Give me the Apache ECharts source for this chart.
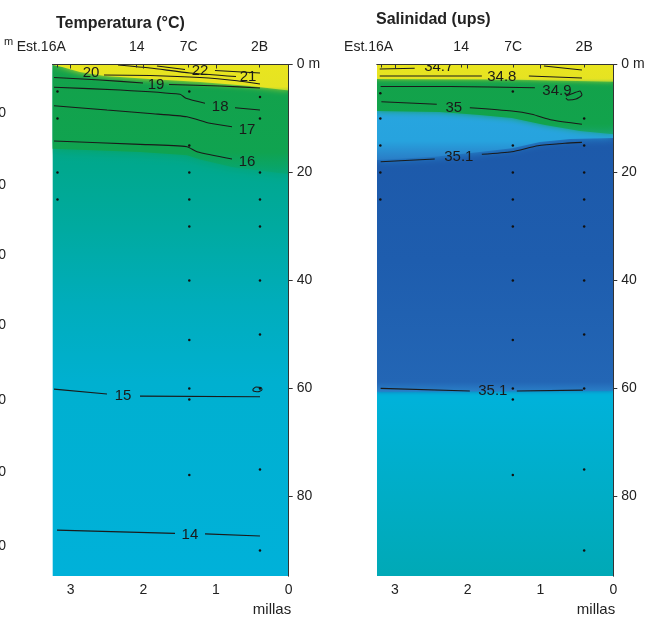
<!DOCTYPE html>
<html>
<head>
<meta charset="utf-8">
<script src="https://cdn.jsdelivr.net/npm/echarts@6/dist/echarts.min.js"></script>
<style>
	html, body { margin: 0; padding: 0; background: #fff; }
	#chart { width: 657px; height: 621px; }
</style>
</head>
<body>
<div id="chart"></div>
<script>
// ---- data (x = millas, y = depth in m) ----
var stationNames = ['Est.16A', '14', '7C', '2B'];
var stationMiles = [3.19, 2.09, 1.375, 0.40];
var mileTicks = [0, 1, 2, 3];
var depthTicks = [0, 20, 40, 60, 80];
var maxMiles = 3.246;
var maxDepth = 94.7;

// temperatura: contour polylines
var tempLines = [
	[[1.812, 0.28], [1.426, 0.93]],
	[[1.014, 1.11], [0.395, 1.57]],
	[[2.348, 0.09], [1.908, 0.65], [1.358, 1.57], [0.725, 2.22]],
	[[2.541, 1.94], [1.908, 2.04], [1.220, 2.41], [0.711, 3.0], [0.395, 3.61]],
	[[3.228, 2.41], [2.596, 2.87], [2.004, 3.43]],
	[[1.646, 3.70], [0.945, 3.98], [0.395, 4.35]],
	[[3.228, 4.22], [2.320, 4.72], [1.495, 5.52], [1.413, 6.26], [1.151, 7.19]],
	[[0.739, 8.0], [0.395, 8.43]],
	[[3.228, 7.63], [2.499, 8.43], [1.908, 9.07], [1.399, 9.67], [1.083, 10.89], [0.780, 11.52]],
	[[3.228, 14.17], [2.045, 14.78], [1.399, 15.22], [1.261, 16.15], [0.780, 17.5]],
	[[3.228, 60.1], [2.499, 61.0]],
	[[2.045, 61.4], [0.395, 61.5]],
	[[0.491, 60.1], [0.450, 59.7], [0.381, 59.8], [0.367, 60.2], [0.422, 60.6], [0.491, 60.4], [0.491, 60.1]],
	[[3.187, 86.2], [1.564, 86.8]],
	[[1.151, 86.9], [0.395, 87.3]]
];
var tempLabels = [
	['20', 2.719, 1.48], ['22', 1.220, 1.20], ['21', 0.560, 2.31], ['19', 1.825, 3.80],
	['18', 0.942, 7.81], ['17', 0.574, 12.13], ['16', 0.574, 18.0], ['15', 2.279, 61.3],
	['14', 1.358, 87.0]
];
var tempSamples = [
	[3.18, 5], [3.18, 10], [3.18, 20], [3.18, 25],
	[1.367, 5], [1.367, 15], [1.367, 20], [1.367, 25], [1.367, 30], [1.367, 40], [1.367, 51], [1.367, 60], [1.367, 62], [1.367, 76],
	[0.395, 6], [0.395, 10], [0.395, 20], [0.395, 25], [0.395, 30], [0.395, 40], [0.395, 50], [0.395, 60], [0.395, 75], [0.395, 90]
];
// colour band edges (fill from surface down to these)
var tempYellowEdge = [[3.246, 0.1], [3.116, 0.46], [2.871, 1.39], [2.527, 2.13], [1.908, 2.69], [1.220, 3.24], [0.532, 3.98], [0, 4.8]];
var tempGreenEdge = [[3.246, 15.6], [2.045, 16.2], [1.399, 16.8], [1.220, 17.6], [0.780, 19.0], [0, 20.3]];

// salinidad
var salLines = [
	[[3.209, 0.83], [2.728, 0.70]],
	[[0.953, 0.28], [0.431, 1.02]],
	[[3.209, 2.13], [1.806, 2.13]],
	[[1.160, 2.13], [0.431, 2.5]],
	[[3.196, 4.07], [2.246, 4.07], [1.077, 4.30]],
	[[0.651, 5.83], [0.541, 5.28], [0.458, 4.91], [0.431, 5.65], [0.513, 6.39], [0.623, 6.57], [0.651, 6.20]],
	[[3.186, 6.89], [2.425, 7.37]],
	[[1.971, 8.0], [1.393, 8.61], [1.118, 9.22], [0.843, 10.28], [0.431, 11.07]],
	[[3.196, 18.0], [2.453, 17.5]],
	[[1.806, 16.63], [1.393, 16.15], [1.036, 15.04], [0.664, 14.59], [0.431, 14.41]],
	[[3.196, 59.96], [1.971, 60.46]],
	[[1.325, 60.46], [0.417, 60.28]]
];
var salLabels = [
	['34.7', 2.398, 0.45], ['34.8', 1.531, 2.22], ['34.9', 0.774, 4.9], ['35', 2.191, 7.96],
	['35.1', 2.122, 17.07], ['35.1', 1.655, 60.46]
];
var salSamples = [
	[3.2, 5.3], [3.2, 10], [3.2, 15], [3.2, 20], [3.2, 25],
	[1.38, 5], [1.38, 15], [1.38, 20], [1.38, 25], [1.38, 30], [1.38, 40], [1.38, 51], [1.38, 60], [1.38, 62], [1.38, 76],
	[0.4, 10], [0.4, 15], [0.4, 20], [0.4, 25], [0.4, 30], [0.4, 40], [0.4, 50], [0.4, 60], [0.4, 75], [0.4, 90]
];
var salYellowEdge = [[3.246, 2.7], [1.5, 2.8], [0, 3.2]];
var salGreenEdge = [[3.246, 8.6], [2.384, 8.8], [1.834, 9.35], [1.393, 9.91], [0.939, 11.2], [0.458, 12.3], [0, 12.9]];
var salLightEdge = [[3.246, 17.7], [2.453, 17.1], [1.834, 16.2], [1.393, 15.5], [1.008, 14.35], [0.596, 13.8], [0, 13.6]];
var salDarkEdge = [[3.246, 60.6], [0, 60.4]];

var FONT = '"Liberation Sans", Arial, sans-serif';
var INK = '#222';

function grad(stops) {
	return new echarts.graphic.LinearGradient(0, 0, 0, 1, stops.map(function (s) {
		return { offset: s[0], color: s[1] };
	}));
}

function fill(g, data, color, blur, shadow) {
	return {
		type: 'line', xAxisIndex: g * 2, yAxisIndex: g * 2, data: data, z: 1,
		symbol: 'none', silent: true, clip: true,
		lineStyle: { width: 0, opacity: 0 },
		areaStyle: { origin: 'start', opacity: 1, color: color, shadowBlur: blur || 0, shadowColor: shadow || 'transparent' }
	};
}

function contours(g, lines) {
	return lines.map(function (l) {
		return {
			type: 'line', xAxisIndex: g * 2, yAxisIndex: g * 2, data: l, z: 3,
			symbol: 'none', silent: true, smooth: 0.2,
			lineStyle: { color: '#1a1a1a', width: 1.1 }
		};
	});
}

function labels(g, list) {
	return {
		type: 'custom', xAxisIndex: g * 2, yAxisIndex: g * 2, clip: true, silent: true, z: 4,
		data: list.map(function (l) { return [l[1], l[2]]; }),
		renderItem: function (params, api) {
			var p = api.coord([api.value(0), api.value(1)]);
			return {
				type: 'text', x: p[0], y: p[1], z2: 10,
				style: { text: list[params.dataIndex][0], fill: '#1a1a1a', font: '15px ' + FONT, align: 'center', verticalAlign: 'middle', opacity: 1 }
			};
		}
	};
}

function dots(g, data) {
	return {
		type: 'scatter', xAxisIndex: g * 2, yAxisIndex: g * 2, data: data, z: 4,
		symbolSize: 2.5, silent: true, itemStyle: { color: '#111', opacity: 1 }
	};
}

function axesFor(g, shift) {
	var line = { show: true, lineStyle: { color: '#333', width: 1 } };
	var xs = [{
		type: 'value', gridIndex: g, min: 0, max: maxMiles, inverse: true, position: 'bottom', z: 5,
		axisLine: line, splitLine: { show: false },
		axisTick: { show: true, length: 4, customValues: mileTicks, lineStyle: { color: '#333' } },
		axisLabel: { customValues: mileTicks, margin: 7, fontSize: 14, fontFamily: FONT, color: INK }
	}, {
		type: 'value', gridIndex: g, min: 0, max: maxMiles, inverse: true, position: 'top', z: 5,
		axisLine: line, splitLine: { show: false },
		axisTick: { show: true, inside: true, length: 3, customValues: stationMiles, lineStyle: { color: '#333' } },
		axisLabel: {
			customValues: stationMiles, margin: 10, fontSize: 14, fontFamily: FONT, color: INK,
			formatter: function (v) {
				var i = stationMiles.findIndex(function (s) { return Math.abs(s - v) < 1e-6; });
				return i === 0 ? '{s|' + stationNames[0] + '}' : stationNames[i];
			},
			rich: { s: { fontSize: 14, fontFamily: FONT, color: INK, padding: [0, shift, 0, 0] } }
		}
	}];
	var ys = [{
		type: 'value', gridIndex: g, min: 0, max: maxDepth, inverse: true, position: 'right', z: 5,
		axisLine: line, splitLine: { show: false },
		axisTick: { show: true, length: 4, customValues: depthTicks, lineStyle: { color: '#333' } },
		axisLabel: {
			customValues: depthTicks, margin: 8, fontSize: 14, fontFamily: FONT, color: INK,
			formatter: function (v) { return v === 0 ? '0 m' : String(v); }
		}
	}, {
		type: 'value', gridIndex: g, min: 0, max: maxDepth, inverse: true, position: 'left', z: 5,
		axisLine: line, splitLine: { show: false }, axisTick: { show: false }, axisLabel: { show: false }
	}];
	return { xs: xs, ys: ys };
}

var a0 = axesFor(0, 31), a1 = axesFor(1, 25);

var series = [].concat(
	// temperatura
	fill(0, [[maxMiles, maxDepth], [0, maxDepth]], grad([[0, '#08a47a'], [0.2, '#00a88e'], [0.32, '#00aaa0'], [0.47, '#00adbc'], [0.62, '#00b0d0'], [1, '#00b1d9']])),
	fill(0, tempGreenEdge, grad([[0, '#13a24a'], [0.8, '#10a350'], [1, 'rgba(8,165,110,0.6)']]), 12, 'rgba(10,163,90,0.9)'),
	fill(0, tempYellowEdge, grad([[0, '#e9e51f'], [0.85, '#e6e322'], [1, 'rgba(220,225,40,0.7)']]), 6, 'rgba(225,228,35,0.9)'),
	contours(0, tempLines),
	labels(0, tempLabels),
	dots(0, tempSamples),
	// salinidad
	fill(1, [[maxMiles, maxDepth], [0, maxDepth]], grad([[0, '#00b3dc'], [0.65, '#00b2da'], [1, '#00a9b6']])),
	fill(1, salDarkEdge, grad([[0, '#1c57a7'], [0.6, '#1e5dae'], [0.97, '#2366b5'], [1, '#2a80c8']]), 4, 'rgba(30,100,180,0.9)'),
	fill(1, salLightEdge, grad([[0, '#28a9e1'], [0.8, '#27a3de'], [1, '#2a7cc6']]), 8, 'rgba(40,150,215,0.9)'),
	fill(1, salGreenEdge, grad([[0, '#13a24a'], [0.85, '#12a34c'], [1, 'rgba(20,165,90,0.7)']]), 6, 'rgba(20,163,80,0.9)'),
	fill(1, salYellowEdge, grad([[0, '#e9e51f'], [0.8, '#e6e322'], [1, 'rgba(210,225,45,0.7)']]), 5, 'rgba(225,228,35,0.9)'),
	contours(1, salLines),
	labels(1, salLabels),
	dots(1, salSamples)
);

var leftCut = [['10', 113], ['20', 185], ['30', 255], ['40', 325], ['50', 400], ['60', 472], ['70', 546]];

var chart = echarts.init(document.getElementById('chart'), null, { renderer: 'canvas' });
chart.setOption({
	animation: false,
	backgroundColor: '#fff',
	title: [
		{ text: 'Temperatura (°C)', left: 51, top: 11, textStyle: { fontSize: 16, fontWeight: 'bold', fontFamily: FONT, color: INK } },
		{ text: 'Salinidad (ups)', left: 371, top: 7, textStyle: { fontSize: 16, fontWeight: 'bold', fontFamily: FONT, color: INK } }
	],
	grid: [
		{ left: 52.7, top: 64.5, width: 236, height: 511.5, show: false },
		{ left: 377, top: 64.5, width: 236.3, height: 511.5, show: false }
	],
	xAxis: a0.xs.concat(a1.xs),
	yAxis: a0.ys.concat(a1.ys),
	series: series,
	graphic: [
		{ type: 'text', left: 4, top: 36, style: { text: 'm', font: '11px ' + FONT, fill: INK } },
		{ type: 'text', x: 272, y: 610, style: { text: 'millas', font: '15px ' + FONT, fill: INK, align: 'center', verticalAlign: 'middle' } },
		{ type: 'text', x: 596, y: 610, style: { text: 'millas', font: '15px ' + FONT, fill: INK, align: 'center', verticalAlign: 'middle' } }
	].concat(leftCut.map(function (c) {
		return { type: 'text', x: 6, y: c[1], style: { text: c[0], font: '14px ' + FONT, fill: INK, align: 'right', verticalAlign: 'middle' } };
	}))
});
</script>
</body>
</html>
